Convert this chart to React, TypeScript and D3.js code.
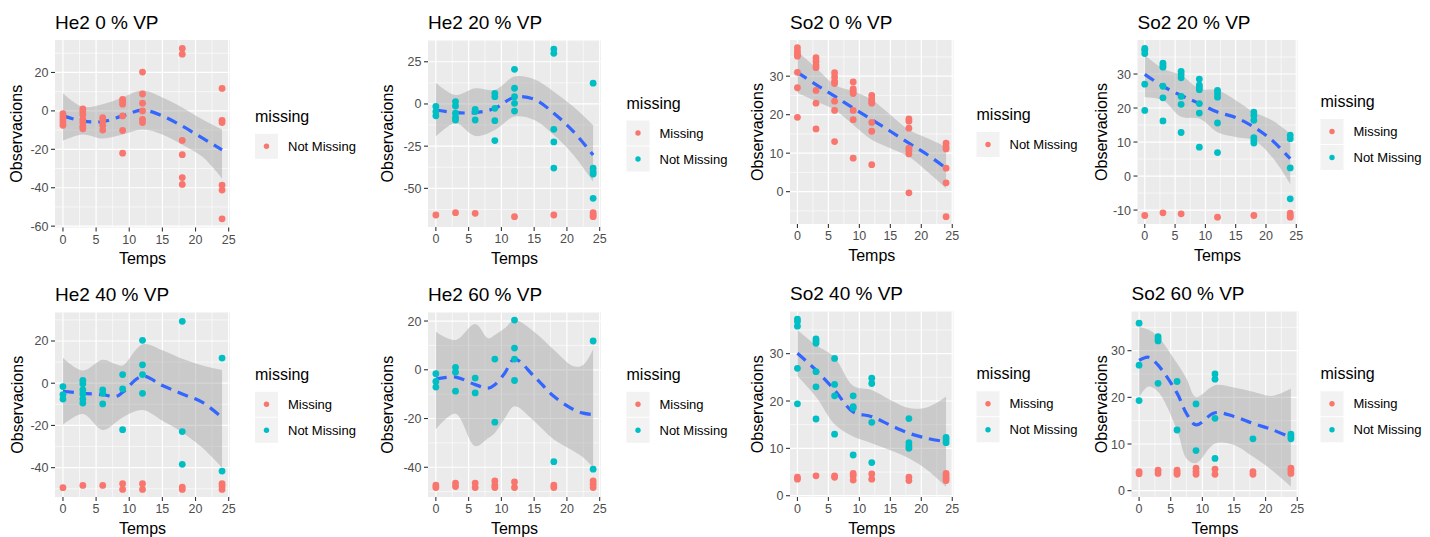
import React, { useEffect } from 'react';
import * as d3 from 'd3';

type Sm = [number, number, number, number]; // t, fit, lower, upper

const RED = '#F8766D';
const TEAL = '#00BFC4';
const FONT = '"Liberation Sans", Arial, Helvetica, sans-serif';

const TIMES = [0, 3, 6, 9, 12, 18, 24];
const X_DOMAIN: [number, number] = [-1.2, 25.2];
const X_TICKS = [0, 5, 10, 15, 20, 25];
const LEVELS = ['Missing', 'Not Missing'];

// ---------- He2 0 % VP ----------
const he2_0_obs = [
  [-1.5, -3, -4.5, -6, -7.5],
  [1, -0.5, -2, -4.5, -6, -8, -9.3],
  [-3.5, -5, -7.5, -10],
  [6, 4.7, 3.5, -2.6, -10.2, -22],
  [20.2, 8.8, 4, 0, -4.4, -6.1],
  [32.5, 29.5, -15.4, -22.8, -34.7, -38.3],
  [11.7, -4.9, -6.1, -38.6, -41.2, -56.2],
];
const he2_0_miss: number[][] = [[], [], [], [], [], [], []];
const he2_0_sm: Sm[] = [
  [0, -2.6, -15.5, 9.2],
  [3, -5.3, -12.3, 2.1],
  [6, -5.6, -14.4, 3.5],
  [9, -2.6, -12.3, 7.0],
  [12, 0.4, -9.7, 10.6],
  [15, -2.6, -12.3, 7.0],
  [18, -7.9, -17.6, 1.8],
  [21, -14.1, -23.8, -4.4],
  [24, -20.3, -35.2, -9.7],
];

// ---------- He2 20 % VP ----------
const he2_20_obs = [
  [-1.5, -4.5, -7],
  [1.4, -1.2, -5.5, -7.9, -9.5],
  [-3.2, -4.5, -9.5],
  [6.3, 4.3, -2.6, -9.9, -21.7],
  [20.5, 9.3, 4.3, 0.4, -4.2],
  [32.5, 30, -15, -22.5, -38],
  [12.3, -38.1, -40.1, -41.5, -55.9],
];
const he2_20_miss = [[-65.8], [-64.4], [-64.8], [], [-66.8], [-65.8], [-64.4, -65.8, -66.8]];
const he2_20_sm: Sm[] = [
  [0, -3.6, -19.4, 12.6],
  [3, -5.1, -11.5, 5.3],
  [6, -5.1, -19, 9.3],
  [9, -2.6, -15.4, 8.3],
  [12, 4, -7.5, 16.2],
  [15, 2.8, -9.5, 14.6],
  [18, -5.5, -18.4, 7.3],
  [21, -16.4, -30.2, -1.6],
  [24, -30.2, -46, -12.5],
];

// ---------- So2 0 % VP ----------
const so2_0_obs = [
  [37.4, 36.5, 35.7, 35.2, 31, 27, 19.3],
  [34.8, 33.9, 32.9, 32.2, 26.3, 23, 16.3],
  [30.9, 29.8, 28.7, 28.1, 23.5, 21.1, 13],
  [28.5, 26.7, 26.1, 25.5, 21.1, 18.7, 8.7],
  [25, 24.1, 23.5, 23, 18, 15.7, 7],
  [18.9, 18.3, 16.5, 11.3, 10.7, 9.8, -0.3],
  [12.6, 11.7, 11.1, 6.1, 2.3, -6.5],
];
const so2_0_miss: number[][] = [[], [], [], [], [], [], []];
const so2_0_sm: Sm[] = [
  [0, 31, 25.7, 36.5],
  [3, 27.8, 23.5, 32.2],
  [6, 24.8, 21.3, 27.8],
  [9, 21.7, 17.4, 26.1],
  [12, 18.7, 13.5, 23.9],
  [15, 15.7, 11.3, 20],
  [18, 12.6, 9.1, 16.1],
  [21, 9.6, 5.2, 13.9],
  [24, 6.1, 0.9, 11.7],
];

// ---------- So2 20 % VP ----------
const so2_20_obs = [
  [37.5, 37, 36, 27, 19.3],
  [33.2, 32.5, 32, 26.4, 23, 16.2],
  [30.8, 29.9, 28.9, 23.4, 21.1, 12.8],
  [28.5, 26.7, 26, 25.4, 21.3, 18.5, 8.5],
  [25.2, 24.2, 23.2, 15.6, 6.9],
  [18.8, 17.8, 16.4, 11.3, 10.5, 9.7],
  [12, 11, 2.4, -6.7],
];
const so2_20_miss = [[-11.6], [-10.8], [-11.1], [], [-12.1], [-11.6], [-10.9, -11.6, -12.1]];
const so2_20_sm: Sm[] = [
  [0, 29.9, 23.2, 35.5],
  [3, 26.4, 22.3, 31.6],
  [6, 23.7, 17.4, 29.6],
  [9, 21.3, 16.9, 25.7],
  [12, 18.8, 12.9, 25.2],
  [15, 17.2, 11.5, 22.3],
  [18, 14.4, 10.5, 18.8],
  [21, 10.5, 5.6, 16.4],
  [24, 5.1, -2.3, 12.5],
];

// ---------- He2 40 % VP ----------
const he2_40_obs = [
  [-1.6, -5.4, -7.5],
  [1.3, -0.3, -3.2, -5.1, -7.5, -9.4],
  [-3.2, -4.8, -9.8],
  [4.1, -2.7, -22],
  [20.3, 8.7, 4.1, -4.8],
  [29.3, -22.9, -38.4],
  [11.9, -41.6],
];
const he2_40_miss = [[-49.5], [-48.4], [-48.4], [-47.6, -50.3], [-47.6, -50.3], [-49.2, -50.3], [-47.6, -48.7, -50.3]];
const he2_40_sm: Sm[] = [
  [0, -3.8, -19.7, 12.1],
  [3, -4.8, -14.6, 6],
  [6, -5.4, -22.2, 11.1],
  [8, -6.3, -18.5, 9],
  [9, -4.3, -16.2, 8.4],
  [12, 3.3, -12.7, 18.4],
  [15, -1.1, -17.8, 15.6],
  [18, -5.1, -23.3, 11.6],
  [21, -9, -30.5, 8.4],
  [24, -16.2, -40, 6.3],
];

// ---------- He2 60 % VP ----------
const he2_60_obs = [
  [-1.6, -4.8, -7.1],
  [1, -1, -8.8],
  [-3.4, -9.5],
  [4.4, -21.5],
  [20.4, 8.9, 4.4, -4.4],
  [-37.7],
  [11.8, -40.8],
];
const he2_60_miss = [[-47.3, -48.3], [-46.5, -47.9], [-46.5, -48.3], [-45.6, -47.3, -48.3], [-46, -48.3], [-47.3, -48.3], [-45.6, -47, -48.3]];
const he2_60_sm: Sm[] = [
  [0, -3.8, -24.5, 15.6],
  [3, -3, -18, 12.2],
  [6, -6.1, -31.3, 18.8],
  [8, -7.5, -28, 12.9],
  [9, -6.1, -25.9, 14.3],
  [10.5, -1.4, -20, 17],
  [12, 4.4, -15, 20.4],
  [15, -2.7, -21.1, 15.6],
  [18, -10.9, -28.6, 8.2],
  [21, -16.3, -33.3, 1.4],
  [22.5, -17.8, -36, 2],
  [24, -18.4, -40.1, 8.4],
];

// ---------- So2 40 % VP ----------
const so2_40_obs = [
  [37.3, 36.8, 35.8, 26.9, 19.4],
  [33.1, 32.7, 32.2, 26.2, 23, 16.2],
  [29, 23.5, 21.1, 13],
  [21.1, 18.8, 18.5, 8.6],
  [24.8, 23.7, 15.5, 7],
  [16.3, 11.2, 10.5, 10],
  [12.3, 11.8, 11.2],
];
const so2_40_miss = [[3.9, 3.5], [4.2], [4.2, 3.9], [4.7, 4.2, 3.3], [4.6, 3.5], [3.9, 3.2], [4.7, 4.2, 3.7, 3.2]];
const so2_40_sm: Sm[] = [
  [0, 30.1, 25.3, 35],
  [3, 26.5, 20.9, 31.8],
  [6, 22.3, 15.1, 29.2],
  [9, 17.7, 12.5, 23.2],
  [12, 16.7, 11.1, 22.3],
  [15, 14.9, 9.6, 20.2],
  [18, 13.2, 7.9, 18.5],
  [21, 12.1, 5.4, 18.7],
  [24, 11.4, 1.9, 20.9],
];

// ---------- So2 60 % VP ----------
const so2_60_obs = [
  [35.9, 26.9, 19.3],
  [33, 32.5, 32.1, 23],
  [23.4, 13],
  [18.6, 8.6],
  [25, 23.9, 15.5, 6.9],
  [11.1],
  [12.1, 11.6, 11.1],
];
const so2_60_miss = [[4.1, 3.6], [4.4, 3.7], [4.4, 3.9, 3.5], [4.8, 4.1, 3.5], [4.6, 3.5], [4.1, 3.5], [4.8, 4.3, 3.7]];
const so2_60_sm: Sm[] = [
  [0, 27.9, 20.1, 35.1],
  [1.5, 28.6, 22.3, 34.5],
  [3, 26.9, 21.2, 33],
  [6, 20.9, 13, 27.3],
  [7.5, 16.5, 6.9, 24],
  [9, 14.1, 5.9, 20.1],
  [12, 16.7, 10.1, 22.6],
  [15, 15.9, 9.8, 22.1],
  [18, 14.4, 7.3, 21.2],
  [21, 13.1, 4.4, 20.3],
  [24, 11.4, 0.9, 21.9],
];

// ---------- layout ----------
interface PanelCfg {
  title: string;
  obs: number[][];
  miss: number[][];
  smooth: Sm[];
  hasMissing: boolean;
  left: number; right: number; top: number; bottom: number;
  yDomain: [number, number];
  yTicks: number[];
  yTitleX: number;
  legendX: number;
}

const PANELS: PanelCfg[] = [
  { title: 'He2 0 % VP', obs: he2_0_obs, miss: he2_0_miss, smooth: he2_0_sm, hasMissing: false,
    left: 55, right: 230, top: 40, bottom: 227.5, yDomain: [-60.7, 36.9], yTicks: [-60, -40, -20, 0, 20], yTitleX: 22, legendX: 255 },
  { title: 'He2 20 % VP', obs: he2_20_obs, miss: he2_20_miss, smooth: he2_20_sm, hasMissing: true,
    left: 428, right: 601, top: 40, bottom: 227, yDomain: [-72.9, 37.9], yTicks: [-50, -25, 0, 25], yTitleX: 393, legendX: 626.5 },
  { title: 'So2 0 % VP', obs: so2_0_obs, miss: so2_0_miss, smooth: so2_0_sm, hasMissing: false,
    left: 790, right: 953.5, top: 40, bottom: 224, yDomain: [-8.4, 39.4], yTicks: [0, 10, 20, 30], yTitleX: 763, legendX: 976.5 },
  { title: 'So2 20 % VP', obs: so2_20_obs, miss: so2_20_miss, smooth: so2_20_sm, hasMissing: true,
    left: 1137.5, right: 1297.5, top: 40, bottom: 224, yDomain: [-14.1, 40], yTicks: [-10, 0, 10, 20, 30], yTitleX: 1107, legendX: 1320.5 },
  { title: 'He2 40 % VP', obs: he2_40_obs, miss: he2_40_miss, smooth: he2_40_sm, hasMissing: true,
    left: 55, right: 230, top: 312.5, bottom: 497, yDomain: [-53.9, 33.5], yTicks: [-40, -20, 0, 20], yTitleX: 23, legendX: 255 },
  { title: 'He2 60 % VP', obs: he2_60_obs, miss: he2_60_miss, smooth: he2_60_sm, hasMissing: true,
    left: 428, right: 601, top: 312.5, bottom: 497, yDomain: [-52.2, 23.5], yTicks: [-40, -20, 0, 20], yTitleX: 393, legendX: 626.5 },
  { title: 'So2 40 % VP', obs: so2_40_obs, miss: so2_40_miss, smooth: so2_40_sm, hasMissing: true,
    left: 790, right: 953.5, top: 311.5, bottom: 497, yDomain: [-0.27, 38.9], yTicks: [0, 10, 20, 30], yTitleX: 763, legendX: 976.5 },
  { title: 'So2 60 % VP', obs: so2_60_obs, miss: so2_60_miss, smooth: so2_60_sm, hasMissing: true,
    left: 1131.5, right: 1298.5, top: 311.5, bottom: 497, yDomain: [-1.36, 38.4], yTicks: [0, 10, 20, 30], yTitleX: 1107, legendX: 1320.5 },
];

function minorBreaks(major: number[], domain: [number, number]): number[] {
  const step = major[1] - major[0];
  const ext = [major[0] - step, ...major, major[major.length - 1] + step];
  const out: number[] = [];
  for (let i = 0; i < ext.length - 1; i++) {
    const m = (ext[i] + ext[i + 1]) / 2;
    if (m >= domain[0] && m <= domain[1]) out.push(m);
  }
  return out;
}

function Panel({ cfg }: { cfg: PanelCfg }) {
  const x = d3.scaleLinear().domain(X_DOMAIN).range([cfg.left, cfg.right]);
  const y = d3.scaleLinear().domain(cfg.yDomain).range([cfg.bottom, cfg.top]);
  const xMinor = minorBreaks(X_TICKS, X_DOMAIN);
  const yMinor = minorBreaks(cfg.yTicks, cfg.yDomain);
  const curve = d3.curveCatmullRom.alpha(0.5);
  const area = d3.area<Sm>().x(d => x(d[0])).y0(d => y(d[2])).y1(d => y(d[3])).curve(curve);
  const line = d3.line<Sm>().x(d => x(d[0])).y(d => y(d[1])).curve(curve);
  const obsColor = cfg.hasMissing ? TEAL : RED;
  const pts: { t: number; v: number; c: string }[] = [];
  cfg.miss.forEach((vals, i) => vals.forEach(v => pts.push({ t: TIMES[i], v, c: RED })));
  cfg.obs.forEach((vals, i) => vals.forEach(v => pts.push({ t: TIMES[i], v, c: obsColor })));
  const cx = (cfg.left + cfg.right) / 2;
  const cy = (cfg.top + cfg.bottom) / 2;
  const levels = cfg.hasMissing ? LEVELS : [LEVELS[1]];
  const legH = 26 + levels.length * 26;
  const legTop = cy - legH / 2;
  const clipId = 'clip-' + cfg.title.replace(/[^A-Za-z0-9]/g, '');
  const titleY = cfg.top - 11.5;
  return (
    <g>
      <defs>
        <clipPath id={clipId}>
          <rect x={cfg.left} y={cfg.top} width={cfg.right - cfg.left} height={cfg.bottom - cfg.top} />
        </clipPath>
      </defs>
      <text x={cfg.left} y={titleY} fontSize={19} fill="#000" fontFamily={FONT}>{cfg.title}</text>
      <rect x={cfg.left} y={cfg.top} width={cfg.right - cfg.left} height={cfg.bottom - cfg.top} fill="#EBEBEB" />
      {xMinor.map(t => (
        <line key={'xm' + t} x1={x(t)} x2={x(t)} y1={cfg.top} y2={cfg.bottom} stroke="#fff" strokeWidth={0.6} />
      ))}
      {yMinor.map(t => (
        <line key={'ym' + t} x1={cfg.left} x2={cfg.right} y1={y(t)} y2={y(t)} stroke="#fff" strokeWidth={0.6} />
      ))}
      {X_TICKS.map(t => (
        <line key={'xM' + t} x1={x(t)} x2={x(t)} y1={cfg.top} y2={cfg.bottom} stroke="#fff" strokeWidth={1.2} />
      ))}
      {cfg.yTicks.map(t => (
        <line key={'yM' + t} x1={cfg.left} x2={cfg.right} y1={y(t)} y2={y(t)} stroke="#fff" strokeWidth={1.2} />
      ))}
      <g clipPath={`url(#${clipId})`}>
        <path d={area(cfg.smooth) || ''} fill="#999999" fillOpacity={0.4} />
        <path d={line(cfg.smooth) || ''} fill="none" stroke="#3366FF" strokeWidth={3.2} strokeDasharray="11 7" />
        {pts.map((p, i) => (
          <circle key={i} cx={x(p.t)} cy={y(p.v)} r={3.4} fill={p.c} />
        ))}
      </g>
      {/* x axis */}
      {X_TICKS.map(t => (
        <g key={'xt' + t}>
          <line x1={x(t)} x2={x(t)} y1={cfg.bottom} y2={cfg.bottom + 4} stroke="#333" strokeWidth={1.1} />
          <text x={x(t)} y={cfg.bottom + 16} textAnchor="middle" fontSize={12.5} fill="#4D4D4D" fontFamily={FONT}>{t}</text>
        </g>
      ))}
      {/* y axis */}
      {cfg.yTicks.map(t => (
        <g key={'yt' + t}>
          <line x1={cfg.left - 4} x2={cfg.left} y1={y(t)} y2={y(t)} stroke="#333" strokeWidth={1.1} />
          <text x={cfg.left - 6.5} y={y(t) + 4.5} textAnchor="end" fontSize={12.5} fill="#4D4D4D" fontFamily={FONT}>{t}</text>
        </g>
      ))}
      <text x={cx} y={cfg.bottom + 36.5} textAnchor="middle" fontSize={16} fill="#000" fontFamily={FONT}>Temps</text>
      <text transform={`translate(${cfg.yTitleX},${cy}) rotate(-90)`} textAnchor="middle" fontSize={16} fill="#000" fontFamily={FONT}>Observacions</text>
      {/* legend */}
      <text x={cfg.legendX} y={legTop + 14} fontSize={16} fill="#000" fontFamily={FONT}>missing</text>
      {levels.map((lv, i) => {
        const ky = legTop + 26 + i * 26;
        const col = lv === 'Missing' ? RED : (cfg.hasMissing ? TEAL : RED);
        return (
          <g key={lv}>
            <rect x={cfg.legendX} y={ky} width={23} height={25} fill="#F2F2F2" />
            <circle cx={cfg.legendX + 11.5} cy={ky + 12.5} r={2.7} fill={col} />
            <text x={cfg.legendX + 33} y={ky + 17} fontSize={13} fill="#000" fontFamily={FONT}>{lv}</text>
          </g>
        );
      })}
    </g>
  );
}

export default function App() {
  useEffect(() => {
    document.body.style.margin = '0';
  }, []);
  return (
    <svg width={1430} height={537} style={{ position: 'fixed', left: 0, top: 0, background: '#fff' }}>
      <rect x={0} y={0} width={1430} height={537} fill="#fff" />
      {PANELS.map(p => <Panel key={p.title} cfg={p} />)}
    </svg>
  );
}
